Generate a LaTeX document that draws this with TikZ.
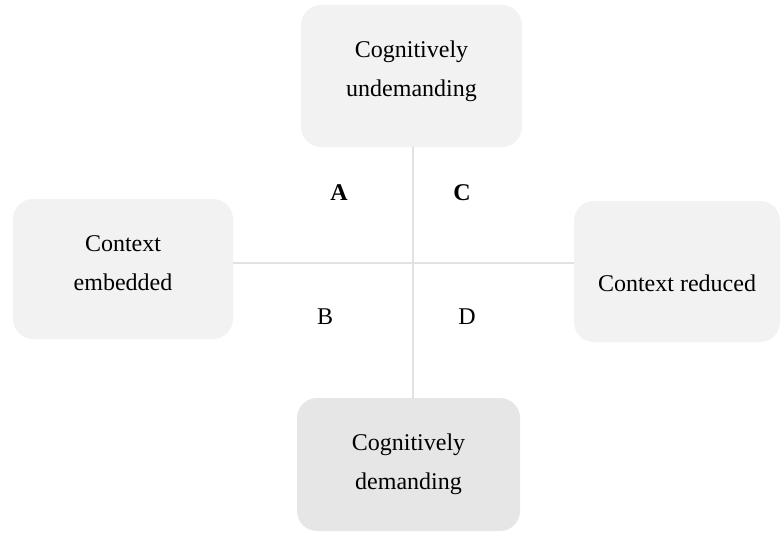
\documentclass[tikz,border=0pt]{standalone}
\usepackage{fontspec}
\setmainfont{Liberation Serif}
\definecolor{boxfill}{HTML}{F2F2F2}
\definecolor{boxdark}{HTML}{E6E6E6}
\definecolor{axis}{HTML}{E2E2E2}
\begin{document}
\begin{tikzpicture}[x=1pt,y=-1pt,
  box/.style={fill=boxfill, draw=none, rounded corners=20pt, align=center,
    font=\fontsize{24}{39}\selectfont, inner sep=0pt},
  quad/.style={font=\fontsize{24}{29}\selectfont, inner sep=0pt},
  axisline/.style={draw=axis, line width=1.5pt}]
\useasboundingbox (0,0) rectangle (781,533);
\node[box, minimum width=221pt, minimum height=142pt, text depth=15pt] (top) at (411.5,76) {Cognitively\\undemanding};
\node[box, minimum width=220pt, minimum height=140pt, text depth=11pt] (left) at (123,269) {Context\\embedded};
\node[box, minimum width=206pt, minimum height=141pt, text height=40pt, text depth=0pt] (right) at (677,271.5) {Context reduced};
\node[box, fill=boxdark, minimum width=223pt, minimum height=133pt] (bot) at (408.5,464.5) {Cognitively\\demanding};
\coordinate (ctr) at (413,263);
\draw[axisline] (ctr |- top.south) -- (ctr |- bot.north);
\draw[axisline] (left.east |- ctr) -- (right.west |- ctr);
\node[quad] (A) at (339,193) {\textbf{A}};
\node[quad] (C) at (462,193) {\textbf{C}};
\node[quad] (B) at (325,317) {B};
\node[quad] (D) at (467,317) {D};
\end{tikzpicture}
\end{document}
